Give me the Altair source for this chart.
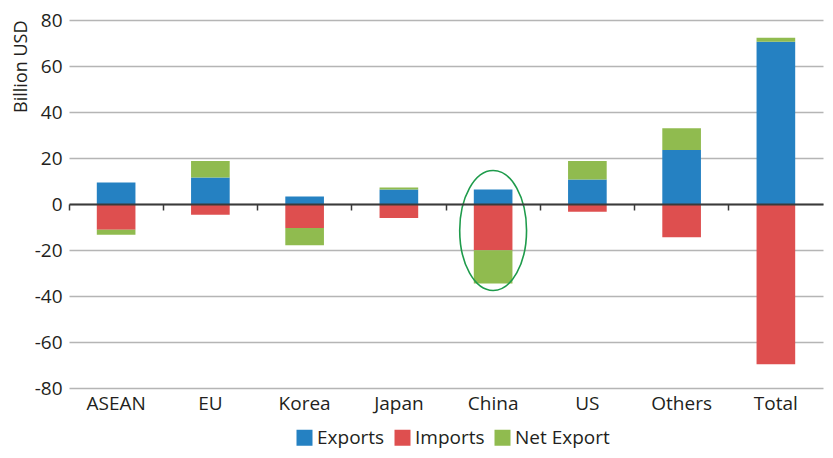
import altair as alt
import pandas as pd

categories = ["ASEAN", "EU", "Korea", "Japan", "China", "US", "Others", "Total"]
exports = [9.3, 11.5, 3.3, 6.3, 6.3, 10.6, 23.5, 70.5]
imports = [-11.2, -4.7, -10.4, -6.1, -20.1, -3.4, -14.5, -69.7]
net_export = [-2.2, 7.2, -7.5, 0.9, -14.5, 8.1, 9.4, 1.8]
series = ["Exports", "Imports", "Net Export"]
colors = ["#2581C2", "#DE4F4F", "#90BB4F"]
y_ticks = [-80, -60, -40, -20, 0, 20, 40, 60, 80]

rows = []
for c, e, i, n in zip(categories, exports, imports, net_export):
    rows.append({"cat": c, "series": "Exports", "y0": 0, "y1": e})
    rows.append({"cat": c, "series": "Imports", "y0": 0, "y1": i})
    base = e if n >= 0 else i
    rows.append({"cat": c, "series": "Net Export", "y0": base, "y1": base + n})
df = pd.DataFrame(rows)

W, H = 754, 368
FONT = "Open Sans"
TXT = "#231F20"
FS = 19

xscale = alt.Scale(domain=categories, paddingInner=0, paddingOuter=0)
yscale = alt.Scale(domain=[-80, 80], nice=False, zero=False)
yaxis = alt.Axis(values=y_ticks, ticks=False, domain=False, grid=True,
                 gridColor="#B5B5B5", gridWidth=1.5,
                 labelExpr="datum.value < 0 ? '-' + abs(datum.value) : '' + datum.value",
                 labelFontSize=FS, labelFont=FONT, labelColor=TXT,
                 labelPadding=7, titleFont=FONT, titleFontSize=18,
                 titleFontWeight="normal", titleColor=TXT, titlePadding=4,
                 titleAnchor="end")

bars = alt.Chart(df).mark_bar(width=alt.RelativeBandSize(0.41)).encode(
    x=alt.X("cat:N", scale=xscale, sort=categories, title=None,
            axis=alt.Axis(labelAngle=0, ticks=False, domain=False, grid=False,
                          labelFontSize=FS, labelFont=FONT, labelColor=TXT,
                          labelPadding=6)),
    y=alt.Y("y0:Q", scale=yscale, title="Billion USD", axis=yaxis),
    y2="y1:Q",
    color=alt.Color("series:N", scale=alt.Scale(domain=series, range=colors),
                    sort=series,
                    legend=alt.Legend(title=None, orient="none", direction="horizontal",
                                      legendX=226, legendY=408,
                                      symbolType="square", symbolSize=256,
                                      symbolStrokeWidth=0, labelFontSize=FS,
                                      labelFont=FONT, labelColor=TXT,
                                      columnPadding=8, labelOffset=3)),
)

tick_layer = alt.Chart(pd.DataFrame({"cat": categories, "v": [0] * len(categories)})).mark_point(opacity=0).encode(
    x=alt.X("cat:N", scale=xscale, sort=categories, title=None,
            axis=alt.Axis(orient="bottom", offset=-H / 2, labels=False, grid=False,
                          bandPosition=0, ticks=True, tickSize=6, tickWidth=1.5,
                          tickColor="#3A3A3A", domain=True, domainColor="#3A3A3A",
                          domainWidth=2.2, zindex=1)),
    y=alt.Y("v:Q", scale=yscale, title="Billion USD", axis=yaxis),
)

ellipse_df = pd.DataFrame({"cat": ["China"], "cy": [-11.5]})
ellipse = alt.Chart(ellipse_df).mark_point(
    shape="M -0.557 0 A 0.557 1 0 1 1 0.557 0 A 0.557 1 0 1 1 -0.557 0 Z",
    size=120 * 120, filled=False, stroke="#1E9B4B", strokeWidth=1.6, opacity=1,
).encode(
    x=alt.X("cat:N", scale=xscale, sort=categories, axis=None),
    y=alt.Y("cy:Q", scale=yscale, title="Billion USD", axis=yaxis),
)

chart = alt.layer(bars, tick_layer, ellipse).resolve_axis(x="independent").properties(
    width=W, height=H,
    autosize=alt.AutoSizeParams(type="none"),
    padding={"left": 61, "top": 12, "right": 1, "bottom": 62},
).configure(font=FONT).configure_view(stroke=None)

chart.save("out.html", embed_options={"renderer": "svg", "actions": False})
